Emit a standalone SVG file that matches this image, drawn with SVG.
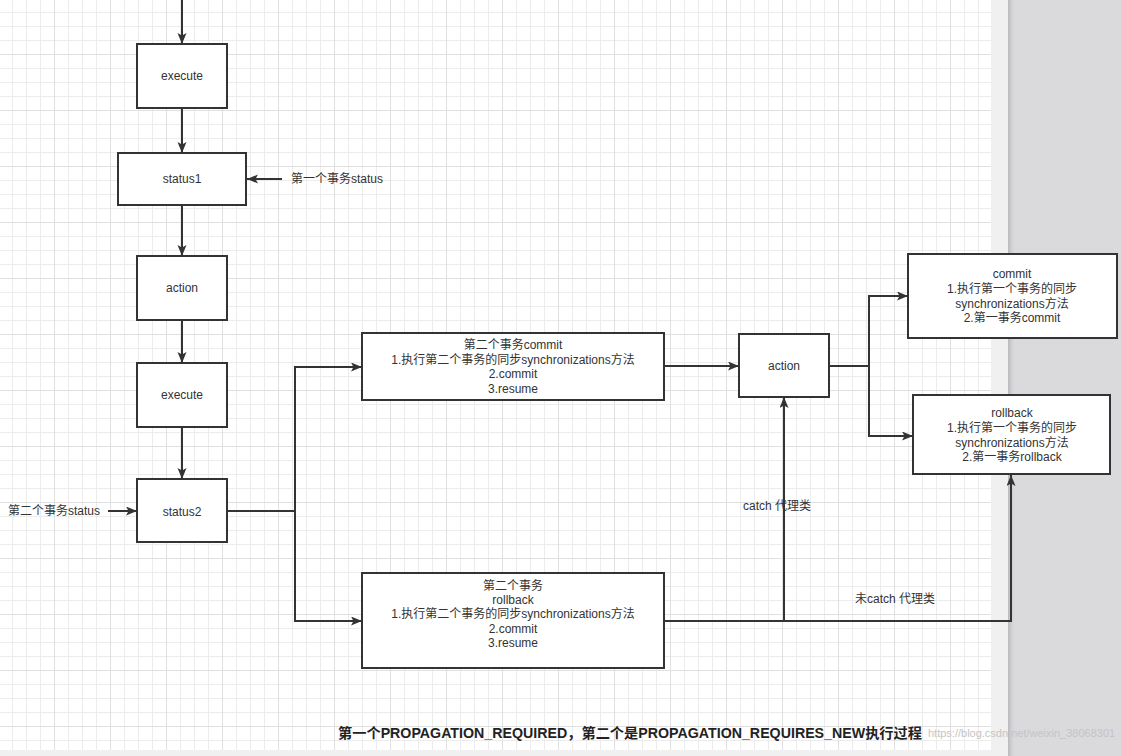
<svg xmlns="http://www.w3.org/2000/svg" width="1121" height="756" viewBox="0 0 1121 756">
<defs>
<pattern id="grid" patternUnits="userSpaceOnUse" x="-2" y="-2" width="56" height="56">
<rect x="0" y="0" width="56" height="56" fill="#ffffff"/>
<rect x="14" y="0" width="1" height="56" fill="#ececec"/>
<rect x="28" y="0" width="1" height="56" fill="#ececec"/>
<rect x="42" y="0" width="1" height="56" fill="#ececec"/>
<rect x="0" y="14" width="56" height="1" fill="#ececec"/>
<rect x="0" y="28" width="56" height="1" fill="#ececec"/>
<rect x="0" y="42" width="56" height="1" fill="#ececec"/>
<rect x="0" y="0" width="1" height="56" fill="#e0e0e0"/>
<rect x="0" y="0" width="56" height="1" fill="#e0e0e0"/>
</pattern>
<linearGradient id="shadow" x1="0" y1="0" x2="1" y2="0">
<stop offset="0" stop-color="#b8b8bc"/>
<stop offset="1" stop-color="#dadadd" stop-opacity="0"/>
</linearGradient>
<marker id="arr" markerUnits="userSpaceOnUse" markerWidth="12" markerHeight="10" refX="11" refY="4.5" orient="auto">
<path d="M0,0 L11,4.5 L0,9 L2.5,4.5 z" fill="#333333"/>
</marker>
</defs>
<style>
.box{fill:#ffffff;stroke:#333333;stroke-width:2}
.ln{fill:none;stroke:#333333;stroke-width:2}
.t{font-family:"Liberation Sans","Noto Sans CJK SC",sans-serif;font-size:12px;fill:#333333;text-anchor:middle;dominant-baseline:central}
.lbl{font-family:"Liberation Sans","Noto Sans CJK SC",sans-serif;font-size:12px;fill:#333333;dominant-baseline:central}
</style>
<!-- background -->
<rect x="0" y="0" width="1121" height="756" fill="#f0f0f0"/>
<rect x="0" y="0" width="991" height="750" fill="url(#grid)"/>
<rect x="1008" y="0" width="113" height="756" fill="#dadadd"/>
<rect x="1008" y="0" width="8" height="756" fill="url(#shadow)"/>

<g id="connectors">
<line class="ln" x1="182" y1="0" x2="182" y2="44" marker-end="url(#arr)"/>
<line class="ln" x1="182" y1="108" x2="182" y2="153" marker-end="url(#arr)"/>
<line class="ln" x1="282" y1="179" x2="247" y2="179" marker-end="url(#arr)"/>
<line class="ln" x1="182" y1="205" x2="182" y2="256" marker-end="url(#arr)"/>
<line class="ln" x1="182" y1="320" x2="182" y2="363" marker-end="url(#arr)"/>
<line class="ln" x1="182" y1="427" x2="182" y2="479" marker-end="url(#arr)"/>
<line class="ln" x1="108" y1="511" x2="137" y2="511" marker-end="url(#arr)"/>
<polyline class="ln" points="227,511 295,511 295,367 362,367" marker-end="url(#arr)"/>
<polyline class="ln" points="295,511 295,621 362,621" marker-end="url(#arr)"/>
<line class="ln" x1="664" y1="366" x2="739" y2="366" marker-end="url(#arr)"/>
<polyline class="ln" points="829,366 869,366 869,296 908,296" marker-end="url(#arr)"/>
<polyline class="ln" points="869,366 869,436 913,436" marker-end="url(#arr)"/>
<polyline class="ln" points="664,621 1011,621 1011,475" marker-end="url(#arr)"/>
<line class="ln" x1="784" y1="621" x2="784" y2="397" marker-end="url(#arr)"/>
</g>

<g id="node-execute1">
<rect class="box" x="137" y="44" width="90" height="64"/>
<text class="t" x="182" y="76">execute</text>
</g>
<g id="node-status1">
<rect class="box" x="118" y="153" width="128" height="52"/>
<text class="t" x="182" y="179">status1</text>
</g>
<g id="label-status1">
<text class="lbl" x="291" y="179">第一个事务status</text>
</g>
<g id="node-action1">
<rect class="box" x="137" y="256" width="90" height="64"/>
<text class="t" x="182" y="288">action</text>
</g>
<g id="node-execute2">
<rect class="box" x="137" y="363" width="90" height="64"/>
<text class="t" x="182" y="395">execute</text>
</g>
<g id="node-status2">
<rect class="box" x="137" y="479" width="90" height="63"/>
<text class="t" x="182" y="512">status2</text>
</g>
<g id="label-status2">
<text class="lbl" x="8" y="511">第二个事务status</text>
</g>
<g id="node-commit2">
<rect class="box" x="362" y="333" width="302" height="67"/>
<text class="t" x="513" y="345">第二个事务commit</text>
<text class="t" x="513" y="360">1.执行第二个事务的同步synchronizations方法</text>
<text class="t" x="513" y="374">2.commit</text>
<text class="t" x="513" y="389">3.resume</text>
</g>
<g id="node-rollback2">
<rect class="box" x="362" y="573" width="302" height="95"/>
<text class="t" x="513" y="586">第二个事务</text>
<text class="t" x="513" y="600">rollback</text>
<text class="t" x="513" y="614">1.执行第二个事务的同步synchronizations方法</text>
<text class="t" x="513" y="629">2.commit</text>
<text class="t" x="513" y="643">3.resume</text>
</g>
<g id="node-action2">
<rect class="box" x="739" y="334" width="90" height="63"/>
<text class="t" x="784" y="366">action</text>
</g>
<g id="node-commit1">
<rect class="box" x="908" y="254" width="209" height="84"/>
<text class="t" x="1012" y="274">commit</text>
<text class="t" x="1012" y="289">1.执行第一个事务的同步</text>
<text class="t" x="1012" y="304">synchronizations方法</text>
<text class="t" x="1012" y="318">2.第一事务commit</text>
</g>
<g id="node-rollback1">
<rect class="box" x="913" y="395" width="197" height="79"/>
<text class="t" x="1012" y="413">rollback</text>
<text class="t" x="1012" y="428">1.执行第一个事务的同步</text>
<text class="t" x="1012" y="443">synchronizations方法</text>
<text class="t" x="1012" y="457">2.第一事务rollback</text>
</g>
<g id="label-catch">
<text class="lbl" x="743" y="506">catch 代理类</text>
</g>
<g id="label-nocatch">
<text class="lbl" x="855" y="599">未catch 代理类</text>
</g>
<g id="caption">
<text x="338" y="733" font-family="'Liberation Sans','Noto Sans CJK SC',sans-serif" font-size="14" font-weight="bold" fill="#222222" dominant-baseline="central" textLength="584" lengthAdjust="spacingAndGlyphs">第一个PROPAGATION_REQUIRED，第二个是PROPAGATION_REQUIRES_NEW执行过程</text>
<text x="928" y="733" font-family="'Liberation Sans',sans-serif" font-size="11" fill="#c4c4c4" dominant-baseline="central">https://blog.csdn.net/weixin_38068301</text>
</g>
</svg>
